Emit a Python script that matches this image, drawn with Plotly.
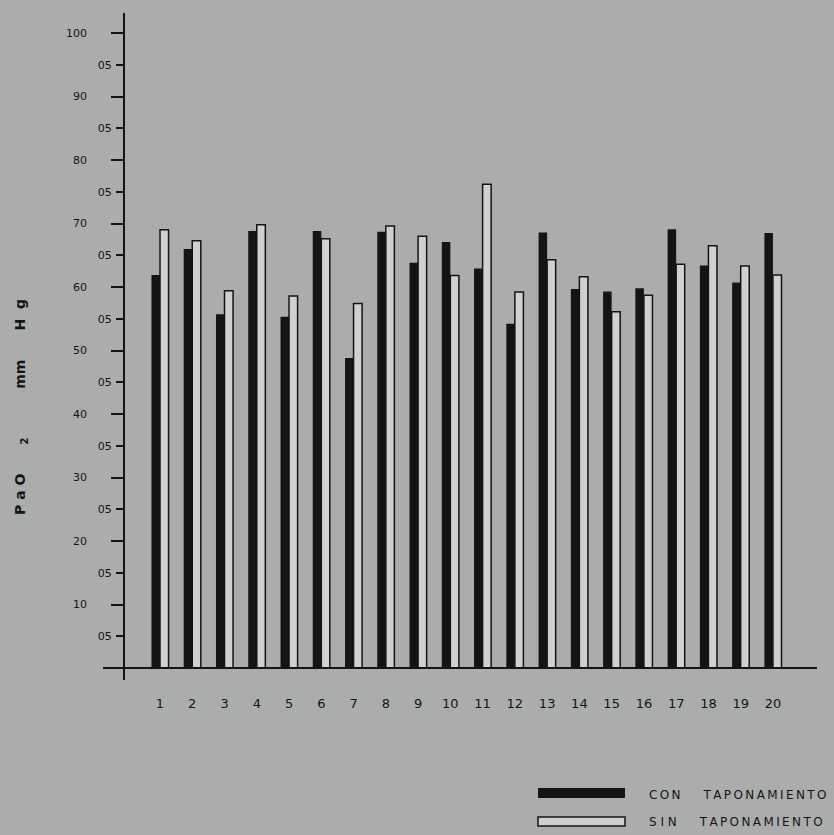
import plotly.graph_objects as go

W, H = 834, 835

# Data (PaO2, mm Hg)
cases = list(range(1, 21))
case_labels = [str(c) for c in cases]
con_taponamiento = [61.9, 66.0, 55.7, 68.8, 55.3, 68.8, 48.8, 68.7, 63.8, 67.1,
                    62.9, 54.2, 68.6, 59.7, 59.3, 59.8, 69.1, 63.4, 60.7, 68.5]
sin_taponamiento = [69.0, 67.3, 59.4, 69.8, 58.6, 67.6, 57.4, 69.6, 68.0, 61.8,
                    76.2, 59.2, 64.3, 61.6, 56.1, 58.7, 63.6, 66.5, 63.3, 61.9]
major_ticks = [10, 20, 30, 40, 50, 60, 70, 80, 90, 100]
major_labels = ["10", "20", "30", "40", "50", "60", "70", "80", "90", "100"]
minor_ticks = [5, 15, 25, 35, 45, 55, 65, 75, 85, 95]
minor_labels = ["05"] * 10

BG = "#abadac"
INK = "#141414"
LIGHT = "#cfd1d0"
FONT = "DejaVu Sans"
THIN = "\u2009"

def px_x(p):
    return p / W

def px_y(p):
    return 1 - p / H

def spaced(word):
    return THIN.join(word)

# pixel geometry
zero_px = 668.0
unit_px = 6.35
y_top_px, y_bot_px = 13.0, 680.0
y_range = [(zero_px - y_bot_px) / unit_px, (zero_px - y_top_px) / unit_px]
x_left_px, x_right_px = 103.0, 817.0
c1_px, pitch = 160.0, 32.26
x_range = [1 + (x_left_px - c1_px) / pitch, 1 + (x_right_px - c1_px) / pitch]

fig = go.Figure()
fig.add_trace(go.Bar(x=cases, y=con_taponamiento, name="CON TAPONAMIENTO",
                     marker=dict(color=INK, line=dict(width=0))))
fig.add_trace(go.Bar(x=cases, y=sin_taponamiento, name="SIN TAPONAMIENTO",
                     marker=dict(color=LIGHT, line=dict(color=INK, width=1.5))))
# invisible trace to activate the second (minor-label) y axis
fig.add_trace(go.Scatter(x=[1], y=[0], yaxis="y2", mode="markers",
                         marker=dict(opacity=0), showlegend=False,
                         hoverinfo="skip"))

fig.update_layout(
    width=W, height=H, autosize=False,
    margin=dict(l=0, r=0, t=0, b=0),
    paper_bgcolor=BG, plot_bgcolor="rgba(0,0,0,0)",
    showlegend=False, barmode="group", bargap=0.47, bargroupgap=0.0,
    font=dict(family=FONT, size=11, color=INK),
    xaxis=dict(domain=[px_x(x_left_px), px_x(x_right_px)], range=x_range,
               anchor="free", position=px_y(zero_px),
               tickvals=cases, ticktext=case_labels, ticks="",
               ticklabelstandoff=24, showgrid=False, zeroline=False,
               showline=True, linecolor=INK, linewidth=1.5,
               tickfont=dict(family=FONT, size=13, color=INK)),
    yaxis=dict(domain=[px_y(y_bot_px), px_y(y_top_px)], range=y_range,
               anchor="free", position=px_x(124),
               tickvals=major_ticks, ticktext=major_labels,
               ticks="outside", ticklen=12, tickwidth=1.5, tickcolor=INK,
               ticklabelstandoff=22, showgrid=False, zeroline=False,
               showline=True, linecolor=INK, linewidth=1.5,
               tickfont=dict(family=FONT, size=11, color=INK)),
    yaxis2=dict(overlaying="y", range=y_range, anchor="free", position=px_x(124),
                side="left",
                tickvals=minor_ticks, ticktext=minor_labels,
                ticks="outside", ticklen=8, tickwidth=1.5, tickcolor=INK,
                ticklabelstandoff=2, showgrid=False, zeroline=False,
                showline=False,
                tickfont=dict(family=FONT, size=11, color=INK)),
)

# legend drawn as keys + labels
fig.add_shape(type="rect", xref="paper", yref="paper",
              x0=px_x(538), x1=px_x(625), y0=px_y(798), y1=px_y(788),
              fillcolor=INK, line=dict(width=0))
fig.add_shape(type="rect", xref="paper", yref="paper",
              x0=px_x(538), x1=px_x(625), y0=px_y(826), y1=px_y(817),
              fillcolor=LIGHT, line=dict(color=INK, width=1.5))
fig.add_annotation(xref="paper", yref="paper", x=px_x(647), y=px_y(795),
                   xanchor="left", yanchor="middle", showarrow=False,
                   text=spaced("CON") + "      " + spaced("TAPONAMIENTO"),
                   font=dict(family=FONT, size=12, color=INK))
fig.add_annotation(xref="paper", yref="paper", x=px_x(647), y=px_y(822),
                   xanchor="left", yanchor="middle", showarrow=False,
                   text="S I N" + "      " + spaced("TAPONAMIENTO"),
                   font=dict(family=FONT, size=12, color=INK))

# y axis title
fig.add_annotation(xref="paper", yref="paper", x=px_x(21), y=px_y(407),
                   xanchor="center", yanchor="middle", showarrow=False,
                   textangle=-90,
                   text="<b>P a O" + " " * 6 + "<sub>2</sub>" + " " * 10 +
                        "mm" + " " * 6 + "H  g</b>",
                   font=dict(family=FONT, size=14, color=INK))

fig.write_html(
    "out.html",
    config={"displayModeBar": False},
    post_script="document.body.style.margin='0';"
                "document.body.style.background='" + BG + "';"
                "document.body.style.overflow='hidden';",
)
